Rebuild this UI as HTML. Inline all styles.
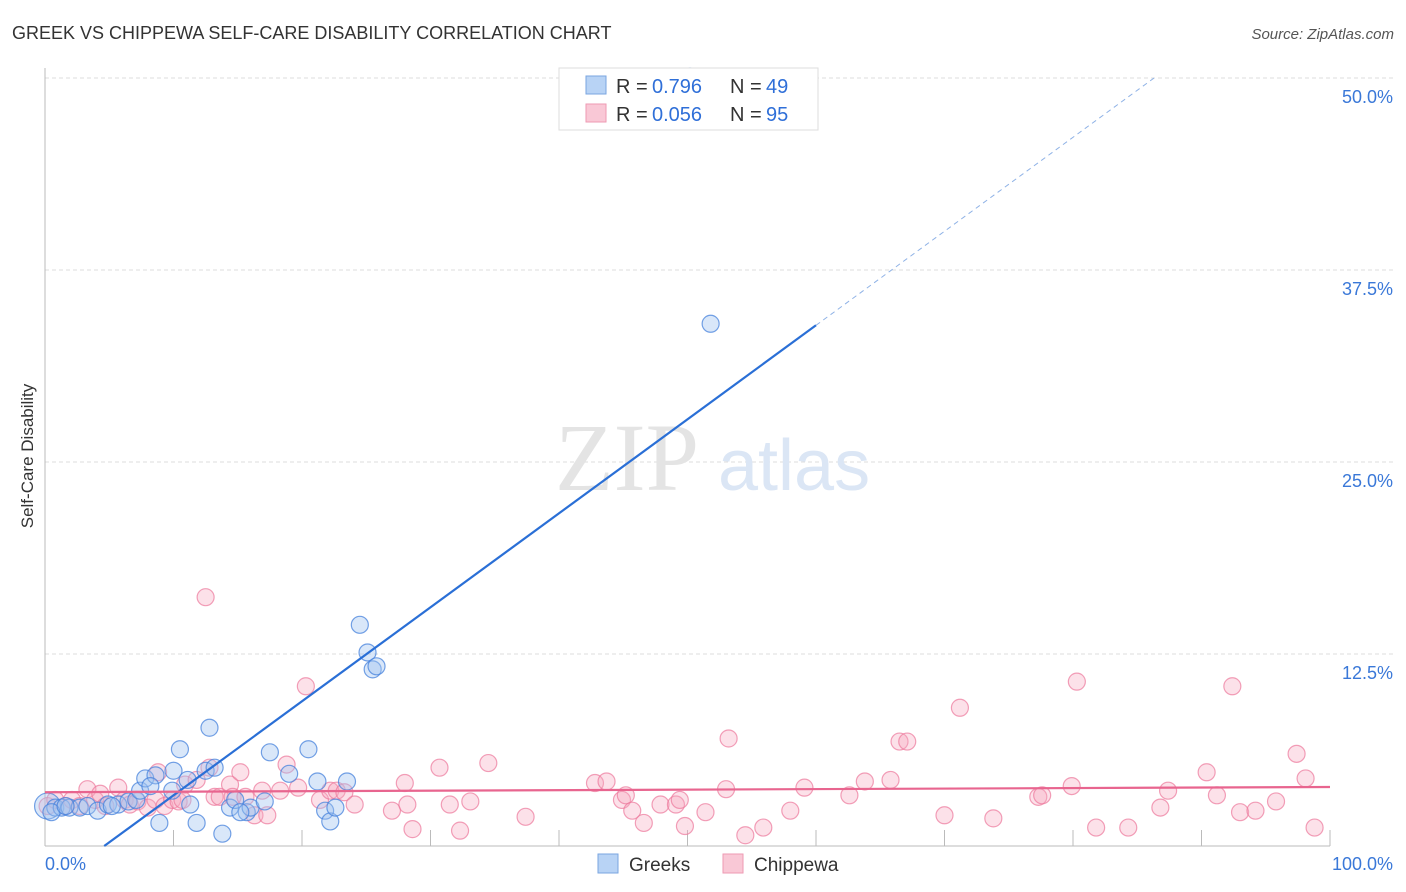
<!DOCTYPE html>
<html><head><meta charset="utf-8"><style>
body{margin:0;background:#fff;font-family:"Liberation Sans",sans-serif}
svg{display:block}
</style></head><body>
<svg id="chart" width="1406" height="892">
<text x="12" y="39" font-size="18" fill="#333">GREEK VS CHIPPEWA SELF-CARE DISABILITY CORRELATION CHART</text>
<text x="1394" y="39" font-size="15" fill="#555" font-style="italic" text-anchor="end">Source: ZipAtlas.com</text>
<text transform="translate(33,456) rotate(-90)" font-size="17" fill="#333" text-anchor="middle">Self-Care Disability</text>
<g id="grid"></g>
<text x="555" y="490" font-size="96" fill="#e4e4e4" font-family="Liberation Serif,serif">ZIP</text>
<text x="718" y="490" font-size="72" fill="#dbe6f5">atlas</text>
<g id="pts"></g>
<g id="lines"></g>
<g font-size="20">
<rect x="559" y="68" width="259" height="62" fill="#fff" stroke="#ddd"/>
<rect x="586" y="76" width="20" height="18" fill="#b8d3f5" stroke="#7aa6e0"/>
<text x="616" y="93" fill="#333">R =</text><text x="652" y="93" fill="#2f6fd8">0.796</text>
<text x="730" y="93" fill="#333">N =</text><text x="766" y="93" fill="#2f6fd8">49</text>
<rect x="586" y="104" width="20" height="18" fill="#f9c8d6" stroke="#ee9ab3"/>
<text x="616" y="121" fill="#333">R =</text><text x="652" y="121" fill="#2f6fd8">0.056</text>
<text x="730" y="121" fill="#333">N =</text><text x="766" y="121" fill="#2f6fd8">95</text>
</g>
<g>
<rect x="598" y="854" width="20" height="19" fill="#b8d3f5" stroke="#7aa6e0"/>
<text x="629" y="871" font-size="19" fill="#333">Greeks</text>
<rect x="723" y="854" width="20" height="19" fill="#f9c8d6" stroke="#ee9ab3"/>
<text x="754" y="871" font-size="19" fill="#333">Chippewa</text>
</g>
</svg>
<script>
const blueX=[0.2,0.8,1.3,1.9,2.7,3.3,4.1,4.9,5.7,6.5,7.1,7.4,7.8,8.6,8.9,9.9,10.0,10.5,11.1,11.3,11.8,12.5,12.8,13.2,13.8,14.4,14.8,15.7,16.0,17.1,17.5,19.0,20.5,21.2,21.8,22.2,22.6,23.5,24.5,25.1,25.5,25.8,51.8,50.2,0.5,1.6,5.2,8.2,15.2];
const blueY=[2.6,2.5,2.5,2.5,2.5,2.6,2.3,2.7,2.7,2.9,3.0,3.6,4.4,4.6,1.5,3.6,4.9,6.3,4.3,2.7,1.5,4.9,7.7,5.1,0.8,2.5,3.0,2.2,2.5,2.9,6.1,4.7,6.3,4.2,2.3,1.6,2.5,4.2,14.4,12.6,11.5,11.7,34.0,50.1,2.2,2.6,2.6,3.9,2.2];
const pinkX=[0.2,0.8,1.6,2.1,2.7,3.3,3.9,4.3,4.7,5.7,6.2,6.6,7.2,8.0,8.6,8.8,9.3,9.9,10.4,10.7,10.9,11.8,12.5,12.8,13.2,13.6,14.4,14.6,15.2,15.6,16.3,16.9,17.3,18.3,18.8,19.7,20.3,21.4,22.2,22.7,23.3,24.1,27.0,28.0,28.2,28.6,30.7,31.5,32.3,33.1,34.5,37.4,42.8,43.7,44.9,45.2,45.7,46.6,47.9,49.1,49.4,49.8,51.4,53.2,53.0,54.5,55.9,58.0,59.1,62.6,63.8,65.8,66.5,67.1,70.0,71.2,73.8,77.3,77.6,79.9,80.3,81.8,84.3,86.8,87.4,90.4,91.2,92.4,93.0,94.2,95.8,97.4,98.1,98.8];
const pinkY=[2.6,3.0,2.6,3.0,2.6,3.7,3.0,3.4,2.6,3.8,3.0,2.7,2.9,2.5,3.0,4.8,2.6,3.0,2.9,3.0,4.0,4.3,16.2,5.1,3.2,3.2,4.0,3.2,4.8,3.2,2.0,3.6,2.0,3.6,5.3,3.8,10.4,3.0,3.6,3.6,3.5,2.7,2.3,4.1,2.7,1.1,5.1,2.7,1.0,2.9,5.4,1.9,4.1,4.2,3.0,3.3,2.3,1.5,2.7,2.7,3.0,1.3,2.2,7.0,3.7,0.7,1.2,2.3,3.8,3.3,4.2,4.3,6.8,6.8,2.0,9.0,1.8,3.2,3.3,3.9,10.7,1.2,1.2,2.5,3.6,4.8,3.3,10.4,2.2,2.3,2.9,6.0,4.4,1.2];
const blueFit=[-2.82,0.612]; const blueSolidEnd=60; const blueDashEnd=86.3;
const pinkFit=[3.5,0.0034];
const yTicks=[12.5,25,37.5,50];
const xTicks=[0,10,20,30,40,50,60,70,80,90,100];
const NS='http://www.w3.org/2000/svg';
const X0=45,X1=1330,Y0=846,Y50=78;
const sx=v=>X0+(X1-X0)*v/100, sy=v=>Y0-(Y0-Y50)*v/50;
function mk(tag,a,parent){const e=document.createElementNS(NS,tag);for(const k in a)e.setAttribute(k,a[k]);document.getElementById(parent).appendChild(e);return e;}
for(const t of yTicks){
 const g=mk('line',{x1:X0,x2:1395,y1:sy(t),y2:sy(t),stroke:'#ddd','stroke-dasharray':'4,3'},'grid');
 
 
 const l=mk('text',{x:1393,y:sy(t)+25,'font-size':18,fill:'#3a78d8','text-anchor':'end'},'grid');
 l.textContent=t.toFixed(1)+'%';
 
 
}
const ax=mk('line',{x1:X0,x2:X0,y1:68,y2:Y0,stroke:'#bbb'},'grid');


const bx=mk('line',{x1:X0,x2:X1,y1:Y0,y2:Y0,stroke:'#bbb'},'grid');


for(const t of xTicks){
 const tk=mk('line',{x1:sx(t),x2:sx(t),y1:Y0-16,y2:Y0,stroke:'#bbb'},'grid');
 
 
}
const xl0=mk('text',{x:45,y:870,'font-size':18,fill:'#3a78d8'},'grid');xl0.textContent='0.0%';


const xl1=mk('text',{x:1393,y:870,'font-size':18,fill:'#3a78d8','text-anchor':'end'},'grid');xl1.textContent='100.0%';


pinkX.forEach((x,i)=>{const c=mk('circle',{cx:sx(x),cy:sy(pinkY[i]),r:8.5,fill:'rgba(246,170,192,0.35)',stroke:'rgba(236,120,155,0.7)','stroke-width':1.2},'pts');
 
 });
blueX.forEach((x,i)=>{const c=mk('circle',{cx:sx(x),cy:sy(blueY[i]),r:i===0?13:8.5,fill:'rgba(160,196,240,0.4)',stroke:'rgba(70,130,220,0.75)','stroke-width':1.2},'pts');
 
 });
const bStart=-blueFit[0]/blueFit[1];
const f=x=>blueFit[0]+blueFit[1]*x;
const bl=mk('line',{x1:sx(bStart),y1:sy(0),x2:sx(blueSolidEnd),y2:sy(f(blueSolidEnd)),stroke:'#2a6fd6','stroke-width':2.2},'lines');


const bd=mk('line',{x1:sx(blueSolidEnd),y1:sy(f(blueSolidEnd)),x2:sx(blueDashEnd),y2:sy(f(blueDashEnd)),stroke:'#8fb2e6','stroke-width':1,'stroke-dasharray':'5,4'},'lines');


const pl=mk('line',{x1:sx(0),y1:sy(pinkFit[0]),x2:sx(100),y2:sy(pinkFit[0]+pinkFit[1]*100),stroke:'#e8658f','stroke-width':2.2},'lines');


</script>
</body></html>
